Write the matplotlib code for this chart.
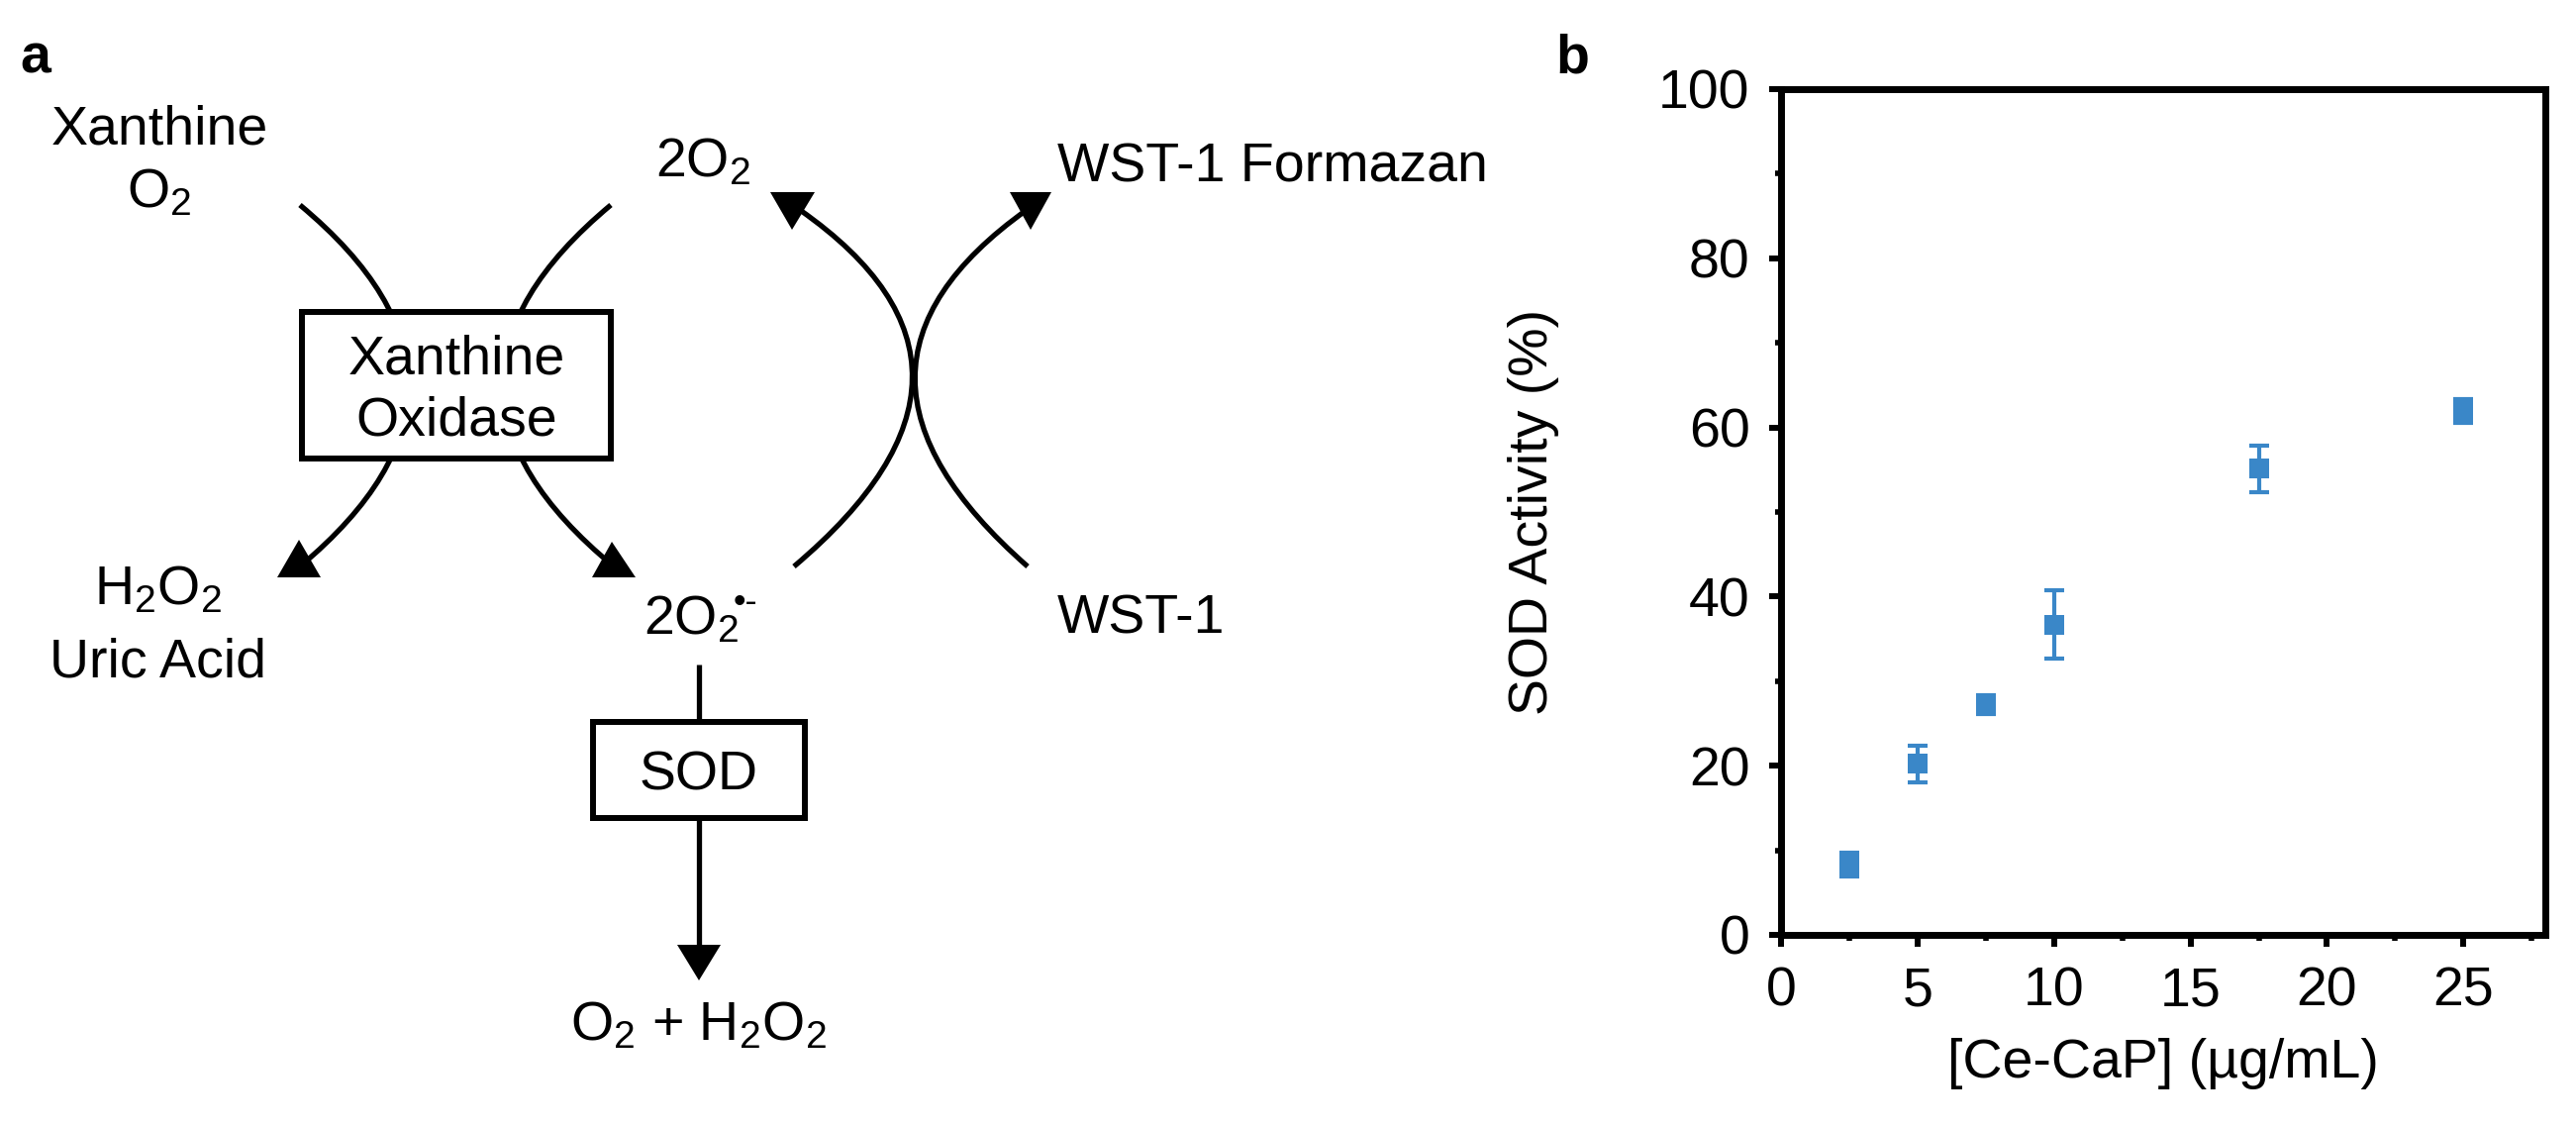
import matplotlib
matplotlib.use('Agg')
import matplotlib.pyplot as plt
from matplotlib.patches import Rectangle, Polygon, PathPatch
from matplotlib.path import Path
from matplotlib.ticker import MultipleLocator

plt.rcParams['font.family'] = ['Liberation Sans', 'DejaVu Sans']
plt.rcParams['mathtext.fontset'] = 'custom'
plt.rcParams['mathtext.rm'] = 'Liberation Sans'
plt.rcParams['mathtext.it'] = 'Liberation Sans:italic'
plt.rcParams['mathtext.bf'] = 'Liberation Sans:bold'
plt.rcParams['mathtext.default'] = 'regular'

# data for panel b
conc = [2.5, 5, 7.5, 10, 17.5, 25]
sod_activity = [8.3, 20.2, 27.2, 36.7, 55.1, 61.9]
sod_err = [1.4, 2.2, 1.1, 4.0, 2.8, 1.4]
x_ticks = [0, 5, 10, 15, 20, 25]
y_ticks = [0, 20, 40, 60, 80, 100]

W, H = 2602, 1139
FS = 40
BLUE = '#3a87c8'
fig = plt.figure(figsize=(W / 100, H / 100), dpi=100)

# panel a: reaction scheme, drawn in pixel coordinates
ax0 = fig.add_axes([0, 0, 1, 1])
ax0.set_xlim(0, W)
ax0.set_ylim(H, 0)
ax0.axis('off')


def curve(p0, p1, p2):
    path = Path([p0, p1, p2], [Path.MOVETO, Path.CURVE3, Path.CURVE3])
    ax0.add_patch(PathPatch(path, fill=False, lw=3.8, ec='black',
                            capstyle='butt', zorder=2))


def head(pts):
    ax0.add_patch(Polygon(pts, closed=True, fc='black', ec='none', zorder=2))


def label(x, y, s, ha='center', **kw):
    ax0.text(x, y, s, fontsize=FS, ha=ha, va='baseline', zorder=5, **kw)


# left crossing arcs through xanthine oxidase
curve((303, 207), (522, 389), (303, 572))
curve((617, 207), (398, 389), (620, 572))
head([(302, 545), (280, 583), (324, 583)])
head([(618, 547), (598, 583), (642, 583)])

# right crossing arcs (WST-1)
curve((808, 212), (1038, 373), (802, 572))
curve((1037, 212), (811, 373), (1038, 572))
head([(778, 194), (823, 194), (800, 232)])
head([(1020, 194), (1062, 194), (1041, 232)])

# SOD branch
ax0.plot([706, 706], [671, 960], color='black', lw=3.8, solid_capstyle='butt', zorder=2)
head([(684, 954), (728, 954), (706, 990)])

ax0.add_patch(Rectangle((305, 315), 312, 148, fc='white', ec='black', lw=4.3, zorder=3))
ax0.add_patch(Rectangle((599, 729), 214, 97, fc='white', ec='black', lw=4.3, zorder=3))

label(161, 146, 'Xanthine')
label(161, 209, 'O$_2$')
label(710, 178, '2O$_2$')
label(1068, 183, 'WST-1 Formazan', ha='left')
label(461, 378, 'Xanthine')
label(461, 440, 'Oxidase')
label(160, 610, 'H$_2$O$_2$')
label(160, 683, 'Uric Acid')
label(650, 640, '2O$_2$', ha='left')
ax0.text(741, 618, '\u2022-', fontsize=26, ha='left', va='baseline', zorder=5)
label(1068, 640, 'WST-1', ha='left')
label(706, 797, 'SOD')
label(706, 1050, 'O$_2$ + H$_2$O$_2$')

ax0.text(20, 73, 'a', fontsize=FS, fontweight='bold', ha='left', va='baseline')
ax0.text(1571, 73, 'b', fontsize=FS, fontweight='bold', ha='left', va='baseline')

# panel b: SOD activity
ax = fig.add_axes([1799 / W, 1 - 944 / H, (2571 - 1799) / W, (944 - 90) / H])
ax.errorbar(conc, sod_activity, yerr=sod_err, fmt='none', ecolor=BLUE,
            elinewidth=3, capsize=7, capthick=3)
ax.plot(conc, sod_activity, 's', color=BLUE, ms=14, mew=0)
ax.set_xlim(0, 28)
ax.set_ylim(0, 100)
ax.set_xticks(x_ticks)
ax.set_yticks(y_ticks)
ax.xaxis.set_minor_locator(MultipleLocator(2.5))
ax.yaxis.set_minor_locator(MultipleLocator(10))
for s in ax.spines.values():
    s.set_linewidth(5)
ax.tick_params(which='major', direction='out', length=8.6, width=4.3,
               pad=14, labelsize=FS)
ax.tick_params(which='minor', direction='out', length=4.3, width=4)
ax.set_xlabel('[Ce-CaP] (\u00b5g/mL)', fontsize=FS)
ax.set_ylabel('SOD Activity (%)', fontsize=FS)
ax.xaxis.set_label_coords(0.5, -0.122)
ax.yaxis.set_label_coords(-0.29, 0.5)

fig.savefig('out.png', dpi=100)
